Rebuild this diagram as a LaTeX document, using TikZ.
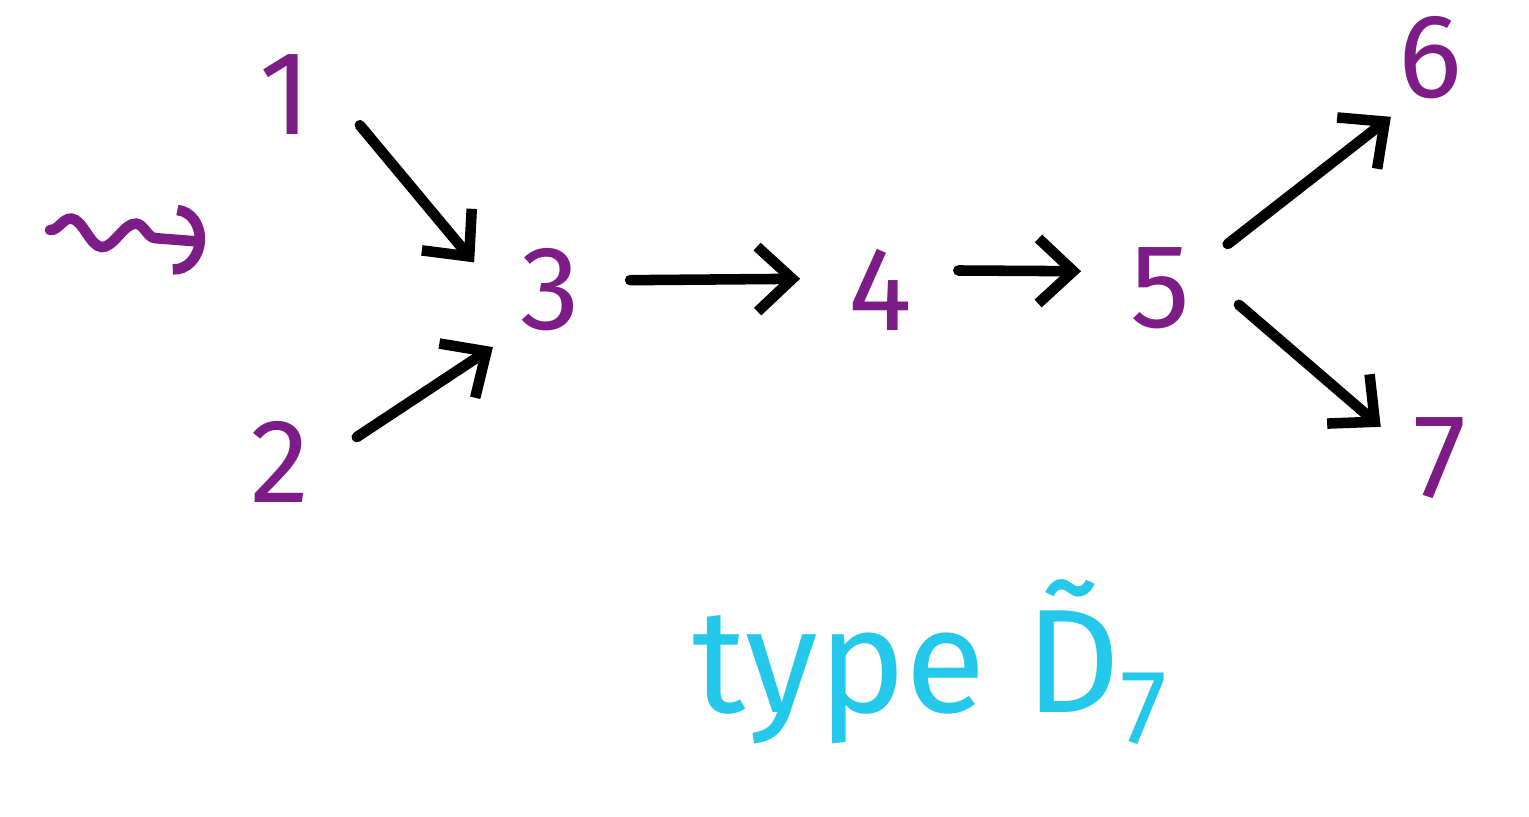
\documentclass[tikz,border=0pt]{standalone}
\usepackage{fontspec}
\setmainfont{Fira Sans}
\usetikzlibrary{arrows.meta, positioning, decorations.pathmorphing}
\definecolor{vertexpurple}{RGB}{125, 28, 135}
\definecolor{typecyan}{RGB}{35, 200, 235}

\begin{document}
\begin{tikzpicture}[
    vertex/.style={circle, minimum size=1.6cm, text=vertexpurple, font=\fontsize{34}{38}\selectfont, inner sep=0pt},
    arrow/.style={-{Straight Barb[length=3.5mm, width=6.5mm, line width=3pt]}, line width=3pt, line cap=round},
    squig/.style={-{Arc Barb[length=3mm, width=7mm, line width=3pt]}, line width=3pt, line cap=round, vertexpurple,
        decorate, decoration={snake, amplitude=1.3mm, segment length=6.5mm, post length=2mm}}
]
\useasboundingbox (0,0) rectangle (15.29,-8.16);

% vertices
\node[vertex] (v1) at (2.85,-0.95) {1};
\node[vertex] (v2) at (2.80,-4.62) {2};
\node[vertex] (v3) at (5.50,-2.90) {3};
\node[vertex] (v4) at (8.80,-2.90) {4};
\node[vertex] (v5) at (11.60,-2.88) {5};
\node[vertex] (v6) at (14.30,-0.58) {6};
\node[vertex] (v7) at (14.40,-4.58) {7};

% arrows
\draw[arrow] (v1.-22) -- (v3.160);
\draw[arrow] (v2.18) -- (v3.225);
\draw[arrow] (v3.7) -- (v4.172);
\draw[arrow] (v4.14) -- (v5.168);
\draw[arrow, shorten >=-3pt] (v5.33) -- (v6.234);
\draw[arrow, shorten >=-4pt] (v5.-12) -- (v7.150);

% squiggly arrow
\coordinate (sqa) at (0.50,-2.30);
\coordinate (sqb) at (2.05,-2.42);
\draw[squig] (sqa) -- (sqb);

% label
\node[text=typecyan, font=\fontsize{42}{48}\selectfont] (lbl) at (9.30,-6.62)
    {type \~{D}{\fontsize{30}{32}\selectfont\raisebox{-0.3em}{7}}};
\end{tikzpicture}
\end{document}
